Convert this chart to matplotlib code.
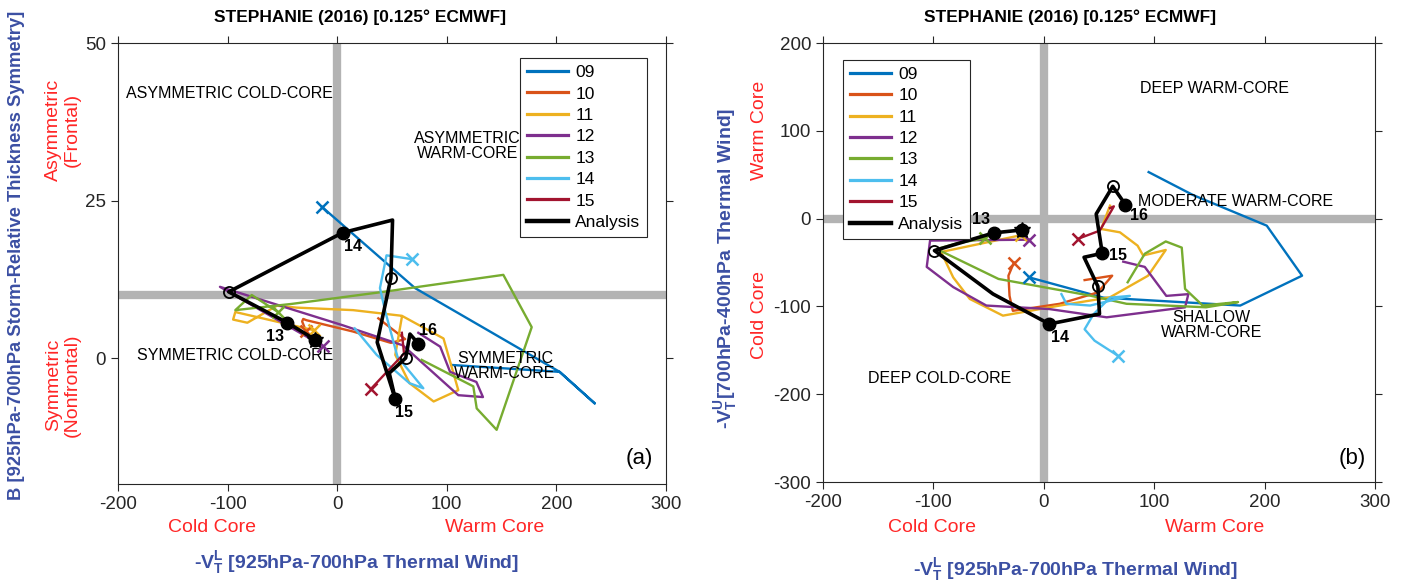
import matplotlib
matplotlib.use("Agg")
import matplotlib.pyplot as plt

plt.rcParams['font.family'] = ['Liberation Sans', 'DejaVu Sans']
plt.rcParams['mathtext.fontset'] = 'custom'
plt.rcParams['mathtext.rm'] = 'Liberation Sans'
plt.rcParams['mathtext.bf'] = 'Liberation Sans:bold'
plt.rcParams['mathtext.it'] = 'Liberation Sans:italic'
plt.rcParams['axes.unicode_minus'] = False

# ---------------- data ----------------
run_labels = ['09', '10', '11', '12', '13', '14', '15']
run_colors = ['#0072BD', '#D95319', '#EDB120', '#7E2F8E', '#77AC30', '#4DBEEE', '#A2142F']

# Panel (a): x = -VTL, y = B
a09_x = [-14, 71, 203, 235, 203, 104]
a09_y = [24, 11.1, -2.2, -7.2, -2.2, -1.1]
a10_x = [-28.5, -32, -31, -28, 14.5, 49, 62, 37.5]
a10_y = [4.3, 5.8, 6.2, 6.0, 4.2, 2.4, 3.0, 6.3]
a11_x = [-21, -93, -95, -82, -55, -37, 14.5, 59, 97, 110.5, 88, 66, 53, 59]
a11_y = [4.4, 7.3, 6.1, 5.6, 8.3, 8.0, 7.6, 6.7, 3.1, -5.1, -6.9, -4.0, 0.5, 6.5]
a12_x = [-13, -107, -52, 5, 60, 110.5, 133, 127, 103, 94, 74]
a12_y = [1.9, 11.3, 8.3, 5.2, 2.0, -5.9, -6.2, -3.8, -2.2, 1.8, 4.0]
a13_x = [-54, -78, -93, -41, 42, 151.6, 177.5, 145.5, 127.3, 124.2, 77.1]
a13_y = [7.3, 10, 7.6, 8.6, 10.5, 13.2, 4.9, -11.4, -8.0, -4.5, -0.3]
a14_x = [68, 45, 39, 44, 55, 78.6, 66, 36, 16]
a14_y = [15.7, 16.3, 11.1, 7.3, 0.2, -4.8, -4.0, 0.5, 4.7]
a15_x = [30.8, 50.7, 61, 59]
a15_y = [-4.9, -1.2, 0.7, 4.0]

# Panel (b): x = -VTL, y = -VTU
b09_x = [-13, 54, 178, 234, 202, 135, 95]
b09_y = [-67, -90, -99, -65, -8, 27, 53]
b10_x = [-27, -32, -31, -28, 14.5, 49, 62, 37]
b10_y = [-50, -65, -88, -105, -97, -84, -65, -70]
b11_x = [-21, -93, -82, -67, -37, 14.5, 60, 94.5, 110.5, 90, 85, 69, 52, 60]
b11_y = [-19, -38, -67, -91.5, -110.5, -99, -89.6, -65, -35.7, -42, -30.8, -15.6, -11.8, 14.8]
b12_x = [-13, -103, -106, -82, -52, 5, 57, 128, 131, 111, 91.5, 72]
b12_y = [-24, -25, -55, -78, -99, -103, -112.4, -101, -86, -88, -55, -49]
b13_x = [-53, -78, -97, -41, 42, 75, 147, 176, 144, 128, 125, 110.5, 91.5, 76]
b13_y = [-22.4, -28, -34.6, -68.7, -87.7, -97, -101, -95, -99, -80, -33, -26, -40, -72.5]
b14_x = [67, 46, 37, 45, 60, 78, 42, 20.5, 16]
b14_y = [-156, -139, -126, -109, -90, -88, -99, -97, -86]
b15_x = [31, 50.7, 61.3, 63.5, 60]
b15_y = [-23, -13.7, 9.1, 14, 12]

# Analysis track (shared -VTL)
ana_x = [-20, -45.5, -99, -46, 5, 50.5, 49, 36.5, 53, 47.5, 62.5, 66.4, 74]
ana_B = [2.9, 5.6, 10.5, 15.3, 19.9, 21.9, 12.7, 2.5, -6.5, -2.4, 0.0, 3.8, 2.3]
ana_VTU = [-12.9, -16.3, -36.4, -85.8, -120, -108.6, -77.1, -44, -39.5, 5.3, 36.8, 29.6, 15.9]
ana_day_idx = [1, 4, 8, 12]
ana_day_lbl = ['13', '14', '15', '16']
ana_half_idx = [2, 6, 10]

a_tracks = [(a09_x, a09_y), (a10_x, a10_y), (a11_x, a11_y), (a12_x, a12_y),
            (a13_x, a13_y), (a14_x, a14_y), (a15_x, a15_y)]
b_tracks = [(b09_x, b09_y), (b10_x, b10_y), (b11_x, b11_y), (b12_x, b12_y),
            (b13_x, b13_y), (b14_x, b14_y), (b15_x, b15_y)]

BLUE = '#3B4FA3'
RED = '#FF2626'
GRAY = '#B3B3B3'
TITLE = 'STEPHANIE (2016) [0.125\u00b0 ECMWF]'
XLAB = r'-$\mathbf{V_T^L}$ [925hPa-700hPa Thermal Wind]'
YLAB_B = r'-$\mathbf{V_T^U}$[700hPa-400hPa Thermal Wind]'

fig = plt.figure(figsize=(14.02, 5.83), dpi=100)
axa = fig.add_axes([0.0842, 0.1698, 0.3908, 0.7564])
axb = fig.add_axes([0.587, 0.1732, 0.3937, 0.753])


def draw(ax, tracks, ana_y, offsets, title_x):
    for (x, y), c, lab in zip(tracks, run_colors, run_labels):
        ax.plot(x, y, color=c, lw=1.7, label=lab, zorder=3)
        ax.plot(x[0], y[0], marker='x', color=c, ms=8, mew=1.8, zorder=4)
    ax.plot(ana_x, ana_y, color='black', lw=2.6, label='Analysis', zorder=5)
    ax.plot([ana_x[i] for i in ana_day_idx], [ana_y[i] for i in ana_day_idx],
            'o', color='black', ms=9, zorder=6)
    ax.plot([ana_x[i] for i in ana_half_idx], [ana_y[i] for i in ana_half_idx],
            'o', mfc='none', mec='black', mew=1.3, ms=8, zorder=6)
    ax.plot(ana_x[0], ana_y[0], 'o', color='black', ms=9, zorder=6)
    ax.plot(ana_x[0], ana_y[0], '*', color='black', ms=12, zorder=6)
    for i, lbl, off in zip(ana_day_idx, ana_day_lbl, offsets):
        ax.annotate(lbl, (ana_x[i], ana_y[i]), xytext=off, textcoords='offset pixels',
                    ha='center', va='center', fontsize=11.5, fontweight='bold', zorder=7)
    ax.tick_params(direction='out', length=5, width=0.8, labelsize=13.5,
                   top=True, right=True, colors='#262626')
    for s in ax.spines.values():
        s.set_linewidth(0.8)
        s.set_color('#262626')
    ax.set_xlim(-200, 300)
    ax.set_xticks([-200, -100, 0, 100, 200, 300])
    ax.set_title(TITLE, fontsize=12.5, fontweight='bold', pad=15, x=title_x)


def legend(ax, loc, anchor):
    leg = ax.legend(loc=loc, bbox_to_anchor=anchor, fontsize=12.5,
                    frameon=True, fancybox=False, edgecolor='#262626', framealpha=1,
                    handlelength=2.4, labelspacing=0.36, borderpad=0.4,
                    handletextpad=0.4, borderaxespad=0)
    leg.get_frame().set_linewidth(0.8)
    for h in leg.get_lines():
        h.set_linewidth(h.get_linewidth() + 0.6)


# ---------- panel (a) ----------
axa.axvline(0, color=GRAY, lw=6, zorder=1)
axa.axhline(10, color=GRAY, lw=6, zorder=1)
draw(axa, a_tracks, ana_B, [(-12, -14), (10, -14), (9, -14), (10, 13)], (360 - 118) / 548)
axa.set_ylim(-20, 50)
axa.set_yticks([0, 25, 50])
axa.text(-193, 42, 'ASYMMETRIC COLD-CORE', fontsize=11.5, va='center', ha='left')
axa.text(119, 33.7, 'ASYMMETRIC\nWARM-CORE', fontsize=11.5, va='center', ha='center',
         linespacing=1.0)
axa.text(-183, 0.4, 'SYMMETRIC COLD-CORE', fontsize=11.5, va='center', ha='left')
axa.text(153, -1.3, 'SYMMETRIC\nWARM-CORE', fontsize=11.5, va='center', ha='center',
         linespacing=1.0)
axa.text(276, -16, '(a)', fontsize=16, ha='center', va='center')
legend(axa, 'upper right', (0.966, 0.966))

fig.text(0.012, 1 - 255 / 583, 'B [925hPa-700hPa Storm-Relative Thickness Symmetry]',
         rotation=90, color=BLUE, fontsize=13.2, fontweight='bold', ha='center', va='center')
fig.text(0.045, 1 - 130 / 583, 'Asymmetric\n(Frontal)', rotation=90, color=RED, fontsize=14,
         ha='center', va='center', linespacing=1.1)
fig.text(0.045, 1 - 385 / 583, 'Symmetric\n(Nonfrontal)', rotation=90, color=RED, fontsize=14,
         ha='center', va='center', linespacing=1.1)
fig.text(212 / 1402, 1 - 527 / 583, 'Cold Core', color=RED, fontsize=14, ha='center', va='center')
fig.text(495 / 1402, 1 - 527 / 583, 'Warm Core', color=RED, fontsize=14, ha='center', va='center')
fig.text(357 / 1402, 1 - 563 / 583, XLAB,
         color=BLUE, fontsize=14, fontweight='bold', ha='center', va='center')

# ---------- panel (b) ----------
axb.axvline(0, color=GRAY, lw=6, zorder=1)
axb.axhline(0, color=GRAY, lw=6, zorder=1)
draw(axb, b_tracks, ana_VTU, [(-13, 13), (11, -14), (16, -2), (14, -11)], (1070 - 823) / 552)
axb.set_ylim(-300, 200)
axb.set_yticks([-300, -200, -100, 0, 100, 200])
axb.text(87, 148, 'DEEP WARM-CORE', fontsize=11.5, va='center', ha='left')
axb.text(85, 19, 'MODERATE WARM-CORE', fontsize=11.5, va='center', ha='left')
axb.text(152, -121, 'SHALLOW\nWARM-CORE', fontsize=11.5, va='center', ha='center',
         linespacing=1.0)
axb.text(-159, -182, 'DEEP COLD-CORE', fontsize=11.5, va='center', ha='left')
axb.text(279, -273, '(b)', fontsize=16, ha='center', va='center')
legend(axb, 'upper left', (0.036, 0.962))

fig.text(726 / 1402, 1 - 268 / 583, YLAB_B, rotation=90,
         color=BLUE, fontsize=14, fontweight='bold', ha='center', va='center')
fig.text(760 / 1402, 1 - 130 / 583, 'Warm Core', rotation=90, color=RED, fontsize=14,
         ha='center', va='center')
fig.text(760 / 1402, 1 - 315 / 583, 'Cold Core', rotation=90, color=RED, fontsize=14,
         ha='center', va='center')
fig.text(932 / 1402, 1 - 528 / 583, 'Cold Core', color=RED, fontsize=14, ha='center', va='center')
fig.text(1215 / 1402, 1 - 528 / 583, 'Warm Core', color=RED, fontsize=14, ha='center', va='center')
fig.text(1076 / 1402, 1 - 570 / 583, XLAB,
         color=BLUE, fontsize=14, fontweight='bold', ha='center', va='center')

fig.savefig('out.png', dpi=100)
